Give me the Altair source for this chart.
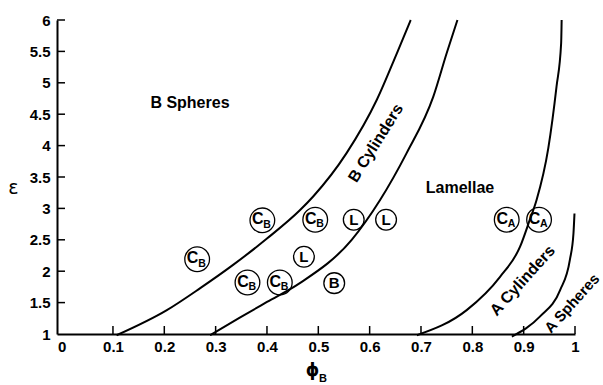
import altair as alt
import pandas as pd

# ---------------- data ----------------
x_ticks = [0, 0.1, 0.2, 0.3, 0.4, 0.5, 0.6, 0.7, 0.8, 0.9, 1.0]
y_ticks = [1, 1.5, 2, 2.5, 3, 3.5, 4, 4.5, 5, 5.5, 6]

# phase boundaries
b1_x = [0.107, 0.205, 0.270, 0.334, 0.400, 0.464, 0.490, 0.555, 0.614, 0.653, 0.680]
b1_y = [0.98, 1.38, 1.73, 2.10, 2.52, 2.97, 3.19, 3.88, 4.73, 5.47, 6.00]
b2_x = [0.289, 0.347, 0.400, 0.464, 0.565, 0.620, 0.672, 0.724, 0.750, 0.771]
b2_y = [0.98, 1.26, 1.51, 1.81, 2.50, 3.13, 3.88, 4.78, 5.47, 6.00]
b3_x = [0.692, 0.789, 0.854, 0.893, 0.912, 0.925, 0.948, 0.964, 0.973, 0.974]
b3_y = [0.98, 1.38, 1.91, 2.39, 2.82, 3.13, 3.96, 4.94, 5.63, 6.00]
b4_x = [0.877, 0.932, 0.971, 0.990, 0.997, 0.999]
b4_y = [0.96, 1.28, 1.70, 2.18, 2.60, 2.92]

# experimental points
pt_x = [0.264, 0.391, 0.362, 0.425, 0.494, 0.569, 0.632, 0.472, 0.531, 0.867, 0.930]
pt_y = [2.19, 2.81, 1.82, 1.82, 2.82, 2.82, 2.82, 2.23, 1.81, 2.82, 2.82]
pt_main = ["C", "C", "C", "C", "C", "L", "L", "L", "B", "C", "C"]
pt_sub = ["B", "B", "B", "B", "B", "", "", "", "", "A", "A"]

# region labels
region_text = ["B Spheres", "B Cylinders", "Lamellae", "A Cylinders", "A Spheres"]
region_x = [0.250, 0.612, 0.776, 0.898, 0.994]
region_y = [4.68, 4.04, 3.32, 1.85, 1.49]

# ---------------- styling / layout ----------------
XMIN = -0.009
FONT = "Liberation Sans"
region_angle = {"B Spheres": 0, "B Cylinders": 302, "Lamellae": 0,
                "A Cylinders": 312, "A Spheres": 312}
region_size = {"B Spheres": 16, "B Cylinders": 16, "Lamellae": 16,
               "A Cylinders": 16, "A Spheres": 15}

xs = alt.Scale(domain=[XMIN, 1.0], nice=False, zero=False)
ys = alt.Scale(domain=[1, 6], nice=False, zero=False)

rows = []
for name, bx, by in [("b1", b1_x, b1_y), ("b2", b2_x, b2_y),
                     ("b3", b3_x, b3_y), ("b4", b4_x, b4_y)]:
    for i, (a, b) in enumerate(zip(bx, by)):
        rows.append({"curve": name, "i": i, "x": a, "y": b})
curves = pd.DataFrame(rows)

pts = pd.DataFrame({"x": pt_x, "y": pt_y, "main": pt_main, "sub": pt_sub})
pts_sub = pts[pts["sub"] != ""]
pts_plain = pts[pts["sub"] == ""]
regions = pd.DataFrame({"text": region_text, "x": region_x, "y": region_y})

x_axis = alt.Axis(values=x_ticks, format="~g", ticks=False, tickSize=0,
                  labelFont=FONT, labelFontWeight="bold", labelFontSize=15,
                  labelColor="black", labelPadding=5, labelFlush=False,
                  labelOverlap=False, domainColor="black", domainWidth=2,
                  grid=False, title="ϕ", titleFont="DejaVu Sans",
                  titleFontSize=17, titleFontWeight="bold", titleColor="black",
                  titleX=255, titleY=36, titleAlign="center",
                  titleBaseline="middle")
y_axis = alt.Axis(values=y_ticks, format="~g", ticks=False, tickSize=0,
                  labelFont=FONT, labelFontWeight="bold", labelFontSize=15,
                  labelColor="black", labelPadding=7, labelOverlap=False,
                  labelFlush=False, domainColor="black", domainWidth=2,
                  grid=False, title="ε", titleFont="DejaVu Sans",
                  titleFontSize=19, titleFontWeight="normal",
                  titleColor="black", titleAngle=0, titleX=-44, titleY=167,
                  titleAlign="center", titleBaseline="middle")


def X(field="x:Q"):
    return alt.X(field, scale=xs, axis=x_axis)


def Y(field="y:Q"):
    return alt.Y(field, scale=ys, axis=y_axis)


lines = alt.Chart(curves).mark_line(
    color="black", strokeWidth=2, interpolate="monotone", clip=False
).encode(x=X(), y=Y(), detail="curve:N", order="i:Q")

xt = pd.DataFrame({"x": x_ticks[1:], "y0": 1.0, "y1": 1.127})
yt = pd.DataFrame({"y": y_ticks[1:], "x0": XMIN, "x1": XMIN + 0.0156})
xtick_marks = alt.Chart(xt).mark_rule(color="black", strokeWidth=1.5).encode(
    x=X(), y=Y("y0:Q"), y2="y1:Q")
ytick_marks = alt.Chart(yt).mark_rule(color="black", strokeWidth=1.5).encode(
    y=Y(), x=X("x0:Q"), x2="x1:Q")


def enc(c):
    return c.encode(x=X(), y=Y())


circ_big = enc(alt.Chart(pts_sub).mark_point(
    shape="circle", filled=False, stroke="black", strokeWidth=1.3,
    size=610, opacity=1))
circ_small = enc(alt.Chart(pts_plain).mark_point(
    shape="circle", filled=False, stroke="black", strokeWidth=1.3,
    size=430, opacity=1))
txt_main_sub = enc(alt.Chart(pts_sub).mark_text(
    font=FONT, fontWeight="bold", fontSize=16, color="black",
    dx=-4.5, dy=-1, baseline="middle", align="center")).encode(text="main:N")
txt_sub = enc(alt.Chart(pts_sub).mark_text(
    font=FONT, fontWeight="bold", fontSize=10.5, color="black",
    dx=4.8, dy=4.5, baseline="middle", align="center")).encode(text="sub:N")
txt_plain = enc(alt.Chart(pts_plain).mark_text(
    font=FONT, fontWeight="bold", fontSize=15, color="black",
    dx=0, dy=0, baseline="middle", align="center")).encode(text="main:N")

region_layers = []
for name in region_text:
    d = regions[regions["text"] == name]
    region_layers.append(enc(alt.Chart(d).mark_text(
        font=FONT, fontWeight="bold", fontSize=region_size[name],
        color="black", angle=region_angle[name], baseline="middle",
        align="center", clip=False)).encode(text="text:N"))

phi_sub = alt.Chart(pd.DataFrame({"t": ["B"]})).mark_text(
    font=FONT, fontWeight="bold", fontSize=11, color="black",
    align="left", baseline="middle"
).encode(text="t:N", x=alt.value(262), y=alt.value(359))

chart = alt.layer(
    lines, xtick_marks, ytick_marks, circ_big, circ_small,
    txt_main_sub, txt_sub, txt_plain, *region_layers, phi_sub
).properties(
    width=518, height=314,
    autosize=alt.AutoSizeParams(type="none"),
    padding={"left": 57, "top": 20, "right": 28, "bottom": 51},
    background="white",
).configure_view(stroke=None)

chart.save("out.html", embed_options={"renderer": "svg", "actions": False})
